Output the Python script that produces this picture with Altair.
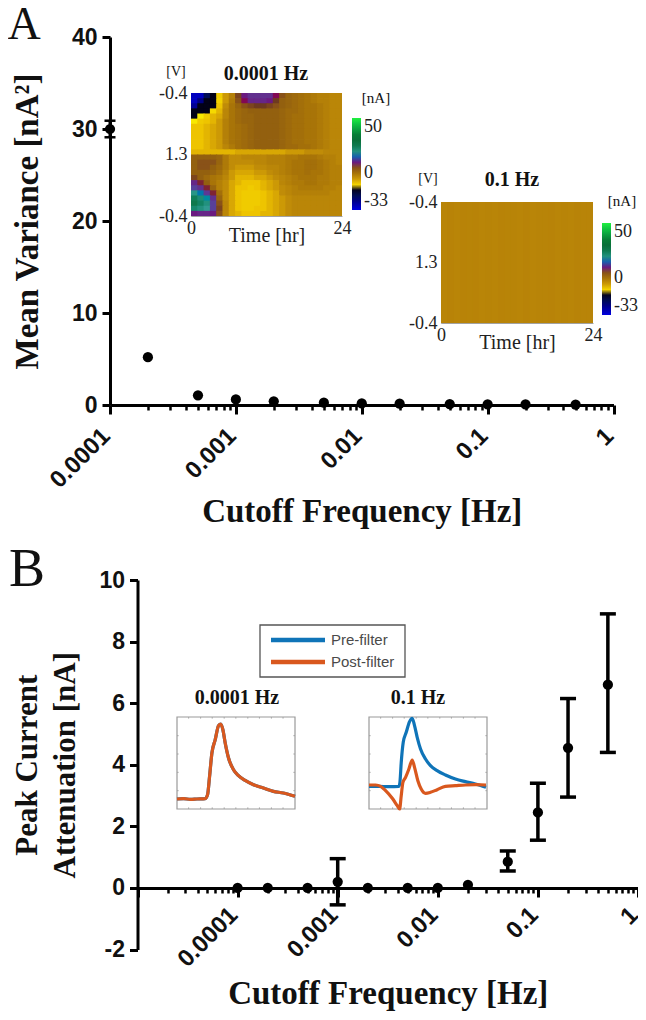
import altair as alt
import pandas as pd

# ---------- Panel A ----------
freq_a = [0.0001, 0.0002, 0.0005, 0.001, 0.002, 0.005, 0.01, 0.02, 0.05, 0.1, 0.2, 0.5]
var_a = [30.0, 5.2, 1.05, 0.6, 0.4, 0.25, 0.18, 0.14, 0.1, 0.07, 0.06, 0.05]
var_lo = [29.1]
var_hi = [30.9]
major_a = [0.0001, 0.001, 0.01, 0.1, 1]
minor_a = [0.0002, 0.0003, 0.0004, 0.0005, 0.0006, 0.0007, 0.0008, 0.0009,
           0.002, 0.003, 0.004, 0.005, 0.006, 0.007, 0.008, 0.009,
           0.02, 0.03, 0.04, 0.05, 0.06, 0.07, 0.08, 0.09,
           0.2, 0.3, 0.4, 0.5, 0.6, 0.7, 0.8, 0.9]

# ---------- Panel B ----------
freq_b = [0.0001, 0.0002, 0.0005, 0.001, 0.002, 0.005, 0.01, 0.02, 0.05, 0.1, 0.2, 0.5]
att_b = [0.0, 0.0, 0.0, 0.2, 0.0, 0.0, 0.0, 0.1, 0.85, 2.45, 4.55, 6.6]
att_lo = [0.0, 0.0, 0.0, -0.55, 0.0, 0.0, 0.0, 0.1, 0.55, 1.55, 2.95, 4.4]
att_hi = [0.0, 0.0, 0.0, 0.95, 0.0, 0.0, 0.0, 0.1, 1.2, 3.4, 6.15, 8.9]
major_b = [0.00001, 0.0001, 0.001, 0.01, 0.1, 1]
minor_b = [0.00002, 0.00003, 0.00004, 0.00005, 0.00006, 0.00007, 0.00008, 0.00009] + minor_a

# ---------- Heatmap: 0.0001 Hz (rows run down the voltage sweep, columns are hours) ----------
heat_slow = [
    [-30,-30,-20,-14,-9,-5,-2,6,10,12,12,12,12,9,5,3,2,1,0,-1,-2,-2,-3,-3],
    [-30,-24,-14,-14,-10,-5,-1,5,9,11,11,11,10,7,4,3,2,1,0,-1,-2,-2,-3,-3],
    [-26,-14,-14,-14,-8,-4,0,3,5,6,7,7,6,5,4,3,2,1,0,0,-1,-2,-3,-3],
    [-14,-14,-14,-11,-7,-3,0,2,3,4,4,4,4,4,3,2,2,1,0,0,-1,-2,-3,-3],
    [-14,-13,-9,-7,-6,-3,0,2,3,3,4,4,4,4,3,2,1,1,0,0,-1,-2,-3,-3],
    [-13,-9,-8,-7,-5,-2,0,2,3,3,4,4,4,4,3,2,1,1,0,0,-1,-2,-3,-3],
    [-8,-8,-7,-6,-5,-2,0,1,2,3,4,4,4,4,3,2,1,1,0,0,-1,-2,-3,-3],
    [-8,-8,-7,-6,-5,-2,0,1,2,3,4,4,4,4,3,2,1,1,0,0,-1,-2,-3,-3],
    [-8,-8,-7,-6,-5,-2,0,1,2,3,4,4,4,4,3,2,1,1,0,0,-1,-2,-3,-3],
    [-8,-8,-7,-6,-5,-2,0,1,2,3,4,4,4,4,3,2,1,1,0,0,-1,-2,-3,-3],
    [-8,-8,-7,-6,-5,-3,-1,1,2,3,4,4,4,4,3,2,2,1,1,0,-1,-2,-3,-3],
    [-7,-7,-7,-7,-7,-7,-7,-6,-6,-6,-6,-6,-6,-6,-6,-5,-5,-5,-4,-4,-4,-3,-3,-3],
    [4,4,4,4,3,-1,-4,-4,-3,-3,-3,-3,-2,-2,-2,-1,-1,0,0,0,-1,-2,-2,-3],
    [4,5,5,5,3,-1,-4,-4,-4,-4,-3,-3,-2,-2,-2,-1,0,0,1,1,0,-1,-2,-3],
    [4,5,5,4,2,-1,-4,-5,-5,-5,-4,-4,-3,-3,-2,-1,0,0,1,1,0,-1,-2,-2],
    [4,4,4,3,1,-2,-5,-6,-6,-6,-5,-5,-4,-3,-2,-1,0,0,1,0,0,-1,-2,-2],
    [6,4,2,0,-1,-3,-5,-7,-7,-7,-6,-6,-5,-4,-3,-2,-1,0,0,0,-1,-1,-2,-2],
    [11,8,4,0,-2,-4,-6,-7,-8,-8,-8,-7,-6,-5,-3,-2,-1,-1,0,0,-1,-1,-2,-2],
    [14,12,8,3,-2,-4,-6,-8,-8,-9,-8,-7,-6,-5,-4,-3,-2,-1,-1,-1,-1,-2,-2,-3],
    [19,16,13,8,1,-4,-6,-8,-9,-9,-9,-8,-7,-6,-4,-3,-2,-2,-2,-2,-2,-2,-3,-3],
    [24,21,17,12,3,-4,-6,-8,-9,-9,-9,-8,-7,-6,-5,-4,-3,-3,-3,-3,-3,-3,-3,-3],
    [26,23,20,14,5,-3,-6,-8,-9,-9,-9,-8,-7,-6,-5,-4,-3,-3,-3,-3,-3,-3,-3,-3],
    [22,20,18,14,6,-3,-6,-8,-9,-9,-8,-8,-7,-6,-5,-4,-3,-3,-3,-3,-3,-3,-3,-3],
    [10,11,11,10,5,-3,-6,-7,-8,-8,-8,-7,-7,-6,-5,-4,-3,-3,-3,-3,-3,-3,-3,-3],
]
# ---------- Heatmap: 0.1 Hz (flat at every voltage) ----------
heat_fast = [
    [-2.8,-2.6,-2.8,-2.6,-2.7,-2.6,-2.9,-2.7,-2.8,-2.6,-2.7,-2.7,
     -2.8,-2.6,-2.9,-2.7,-2.7,-2.6,-2.8,-2.7,-2.8,-2.6,-2.7,-2.7],
]
nA_stops = [-33, -24, -13.5, -13, -8, -4, 0, 4, 7, 10, 14, 18, 25, 32, 42, 50]
nA_colors = ["#0000e0", "#000080", "#000010", "#f8e800", "#eec400", "#c08c08", "#a87408",
             "#93600f", "#6e3a20", "#6a1a80", "#58409a", "#309a90", "#107a50", "#0a6a30",
             "#10b040", "#20f040"]

# ---------- Inset traces (arbitrary units) ----------
t_slow = [0, 20, 40, 60, 85, 92, 98, 105, 115, 125, 132, 138, 145, 155, 170, 185, 205, 230, 260, 290, 320, 355]
i_slow = [30, 31, 29, 30, 31, 43, 98, 168, 208, 250, 255, 238, 198, 153, 118, 100, 86, 73, 63, 53, 48, 38]
t_pre = [0, 30, 60, 90, 93, 97, 103, 112, 122, 130, 137, 145, 155, 170, 185, 205, 230, 260, 290, 320, 352]
i_pre = [68, 68, 67, 68, 80, 140, 200, 230, 262, 272, 250, 215, 180, 150, 130, 115, 102, 90, 82, 75, 65]
t_post = [0, 20, 35, 50, 70, 85, 92, 97, 102, 110, 120, 130, 137, 147, 157, 170, 185, 205, 230, 260, 290, 320, 352]
i_post = [72, 72, 68, 55, 32, 10, 0, 40, 80, 95, 120, 147, 125, 85, 60, 47, 50, 58, 68, 70, 72, 73, 72]
inset_ticks_x = [35, 71, 106, 142, 177, 213, 248, 284, 319]
inset_ticks_y = [55, 110, 165, 220]
series = ["Pre-filter", "Post-filter"]
series_colors = ["#0f74b8", "#d9581e"]

W, H = 630, 1004
SERIF = "Liberation Serif"
SANS = "Liberation Sans"


def px(v):
    return v - 8


def label(text, x, y, size, font=SERIF, bold=False, color="#111111", align="center", baseline="middle"):
    return alt.Chart(alt.Data(values=[{"t": text}])).mark_text(
        font=font, fontSize=size, fontWeight="bold" if bold else "normal",
        color=color, align=align, baseline=baseline,
    ).encode(x=alt.value(px(x)), y=alt.value(px(y)), text=alt.Text("t:N"))


def log_x(left, right, dom, **axis):
    return alt.X("f:Q", scale=alt.Scale(type="log", domain=dom, range=[px(left), px(right)], nice=False),
                 axis=alt.Axis(**axis) if axis else None)


def lin_y(top, bottom, dom, **axis):
    return alt.Y("v:Q", scale=alt.Scale(domain=dom, range=[px(bottom), px(top)], nice=False, zero=False),
                 axis=alt.Axis(**axis) if axis else None)


def x_axis_layers(freqs, left, right, dom, top, bottom, ydom, axis_y, major, minor, title, lsize, tsize, tpad, lpad, loff, lexpr=None):
    src = pd.DataFrame({"f": freqs, "v": [ydom[0]] * len(freqs)})
    kw = {}
    if lexpr:
        kw["labelExpr"] = lexpr
    maj = alt.Chart(src).mark_point(opacity=0).encode(
        x=log_x(left, right, dom, orient="bottom", offset=px(axis_y) - H, values=major, grid=False,
                title=title, titleFont=SERIF, titleFontSize=tsize, titleFontWeight="bold", titleColor="#111111",
                titlePadding=tpad, labelFont=SANS, labelFontSize=lsize, labelFontWeight="bold", labelColor="#111111",
                labelAngle=-45, labelAlign="right", labelBaseline="middle", labelPadding=lpad, labelOffset=loff,
                labelOverlap=False, labelFlush=False, tickSize=9, tickWidth=3, tickColor="#000000", domainWidth=3,
                domainColor="#000000", format="~g", **kw),
        y=lin_y(top, bottom, ydom),
    )
    mnr = alt.Chart(src).mark_point(opacity=0).encode(
        x=log_x(left, right, dom, orient="bottom", offset=px(axis_y) - H, values=minor, grid=False,
                title="", labels=False, domain=False, tickSize=5, tickWidth=2.5, tickColor="#000000"),
        y=lin_y(top, bottom, ydom),
    )
    return [mnr, maj]


def y_axis_layer(freqs, left, right, dom, top, bottom, ydom, axis_x, values, title, lsize, tsize, tpad, line_h=None):
    src = pd.DataFrame({"f": freqs, "v": [ydom[0]] * len(freqs)})
    kw = {"titleLineHeight": line_h} if line_h else {}
    return alt.Chart(src).mark_point(opacity=0).encode(
        x=log_x(left, right, dom),
        y=lin_y(top, bottom, ydom, orient="left", offset=-px(axis_x), values=values, grid=False, title=title,
                titleFont=SERIF, titleFontSize=tsize, titleFontWeight="bold", titleColor="#111111", titlePadding=tpad,
                labelFont=SANS, labelFontSize=lsize, labelFontWeight="bold", labelColor="#111111", labelPadding=5,
                tickSize=8, tickWidth=3, tickColor="#000000", domainWidth=3, domainColor="#000000",
                labelFlush=False, labelOverlap=False, labelExpr="'' + datum.value", **kw),
    )


def heat_layer(matrix, left, right, top, bottom, legend_x, legend_y, colorbar_len):
    n_r, n_c = len(matrix), len(matrix[0])
    rows = []
    for r, row in enumerate(matrix):
        for c, val in enumerate(row):
            rows.append({"h": c, "h2": min(c + 1.15, n_c),
                         "s": 3.4 * r / n_r, "s2": min(3.4 * (r + 1.15) / n_r, 3.4), "nA": val})
    return alt.Chart(pd.DataFrame(rows)).mark_rect().encode(
        x=alt.X("h:Q", scale=alt.Scale(domain=[0, n_c], range=[px(left), px(right)], nice=False, zero=False),
                axis=alt.Axis(orient="bottom", offset=px(bottom) - H, values=[0, 24], grid=False, title="Time [hr]",
                              titleFont=SERIF, titleFontSize=20, titleFontWeight="normal", titleColor="#222222",
                              titlePadding=-12, labelFont=SERIF, labelFontSize=18, labelColor="#222222",
                              labelAngle=0, labelPadding=3, labelFlush=False, tickSize=0, domainColor="#8a8a8a",
                              domainWidth=0.8)),
        x2="h2:Q",
        y=alt.Y("s:Q", scale=alt.Scale(domain=[0, 3.4], range=[px(top), px(bottom)], nice=False, zero=False),
                axis=alt.Axis(orient="left", offset=-px(left), values=[0, 1.7, 3.4], grid=False, title="",
                              labelExpr="datum.value == 1.7 ? '1.3' : '-0.4'", labelFont=SERIF, labelFontSize=18,
                              labelColor="#222222", labelPadding=4, labelFlush=False, labelOverlap=False, tickSize=0,
                              domainColor="#8a8a8a", domainWidth=0.8)),
        y2="s2:Q",
        color=alt.Color("nA:Q", scale=alt.Scale(domain=nA_stops, range=nA_colors, clamp=True),
                        legend=alt.Legend(orient="none", legendX=px(legend_x), legendY=px(legend_y), title=None,
                                          values=[-33, 0, 50], gradientLength=colorbar_len, gradientThickness=9,
                                          gradientStrokeWidth=0, labelFont=SERIF, labelFontSize=18, labelColor="#222222",
                                          labelBaseline="middle", labelOffset=3, labelOverlap=False, padding=0,
                                          labelExpr="'' + datum.value")),
    )


def inset_layers(traces, left, right, top, bottom):
    xs = alt.Scale(domain=[0, 355], range=[px(left), px(right)], nice=False, zero=False)
    ys = alt.Scale(domain=[0, 276], range=[px(bottom), px(top)], nice=False, zero=False)
    frame = alt.Chart(pd.DataFrame({"a": [0], "a2": [355], "b": [0], "b2": [276]})).mark_rect(
        fill="#ffffff", stroke="#9a9a9a", strokeWidth=1.2,
    ).encode(x=alt.X("a:Q", scale=xs, axis=None), x2="a2:Q", y=alt.Y("b:Q", scale=ys, axis=None), y2="b2:Q")
    tick_rows = []
    for t in inset_ticks_x:
        tick_rows.append({"a": t, "a2": t, "b": 0, "b2": 5})
        tick_rows.append({"a": t, "a2": t, "b": 271, "b2": 276})
    for t in inset_ticks_y:
        tick_rows.append({"a": 0, "a2": 5, "b": t, "b2": t})
        tick_rows.append({"a": 350, "a2": 355, "b": t, "b2": t})
    ticks = alt.Chart(pd.DataFrame(tick_rows)).mark_rule(color="#9a9a9a", strokeWidth=0.8).encode(
        x=alt.X("a:Q", scale=xs, axis=None), x2="a2:Q", y=alt.Y("b:Q", scale=ys, axis=None), y2="b2:Q")
    rows = []
    for name, ts, vs in traces:
        for i, (t, v) in enumerate(zip(ts, vs)):
            rows.append({"t": t, "i": v, "s": name, "o": i})
    lines = alt.Chart(pd.DataFrame(rows)).mark_line(strokeWidth=3.2, interpolate="monotone").encode(
        x=alt.X("t:Q", scale=xs, axis=None),
        y=alt.Y("i:Q", scale=ys, axis=None),
        color=alt.Color("s:N", scale=alt.Scale(domain=series, range=series_colors), legend=None),
        order="o:Q",
    )
    return [frame, ticks, lines]


def key_layers():
    one = alt.Data(values=[{"k": 1}])
    box = alt.Chart(one).mark_rect(fill="#ffffff", stroke="#555555", strokeWidth=1.3).encode(
        x=alt.value(px(260)), x2=alt.value(px(405)), y=alt.value(px(625)), y2=alt.value(px(677)))
    out = [box]
    for name, col, yy in zip(series, series_colors, [640, 662]):
        out.append(alt.Chart(one).mark_rule(color=col, strokeWidth=4.5).encode(
            x=alt.value(px(271)), x2=alt.value(px(325)), y=alt.value(px(yy))))
        out.append(label(name, 331, yy, 15, font=SANS, color="#4a4a4a", align="left"))
    return out


# ---- Panel A marks
A_LEFT, A_RIGHT, A_TOP, A_BOT = 110, 613.5, 37, 405
A_DOM, A_Y = [0.0001, 1], [0, 40]
A_xy = dict(x=log_x(A_LEFT, A_RIGHT, A_DOM), y=lin_y(A_TOP, A_BOT, A_Y))
a_pts = alt.Chart(pd.DataFrame({"f": freq_a, "v": var_a})).mark_circle(size=105, color="#000000", opacity=1).encode(**A_xy)
a_err = pd.DataFrame({"f": freq_a[:1], "v": var_lo, "v2": var_hi})
a_rule = alt.Chart(a_err).mark_rule(color="#000000", strokeWidth=3).encode(**A_xy, y2="v2:Q")
a_cap1 = alt.Chart(a_err).mark_tick(orient="horizontal", size=11, thickness=2.5, color="#000000", opacity=1).encode(**A_xy)
a_cap2 = alt.Chart(a_err).mark_tick(orient="horizontal", size=11, thickness=2.5, color="#000000", opacity=1).encode(
    x=A_xy["x"], y=alt.Y("v2:Q", scale=alt.Scale(domain=A_Y, range=[px(A_BOT), px(A_TOP)], nice=False, zero=False), axis=None))

# ---- Panel B marks
B_LEFT, B_RIGHT, B_TOP, B_BOT = 137.5, 638, 580, 949.5
B_DOM, B_Y = [0.00001, 1], [-2, 10]
B_xy = dict(x=log_x(B_LEFT, B_RIGHT, B_DOM), y=lin_y(B_TOP, B_BOT, B_Y))
b_df = pd.DataFrame({"f": freq_b, "v": att_b, "lo": att_lo, "hi": att_hi})
b_err = b_df[b_df["hi"] > b_df["lo"]]
by = dict(scale=alt.Scale(domain=B_Y, range=[px(B_BOT), px(B_TOP)], nice=False, zero=False), axis=None)
b_pts = alt.Chart(b_df).mark_circle(size=105, color="#000000", opacity=1).encode(**B_xy)
b_rule = alt.Chart(b_err).mark_rule(color="#000000", strokeWidth=3.5).encode(
    x=B_xy["x"], y=alt.Y("lo:Q", **by), y2="hi:Q")
b_cap1 = alt.Chart(b_err).mark_tick(orient="horizontal", size=16, thickness=3.5, color="#000000", opacity=1).encode(
    x=B_xy["x"], y=alt.Y("lo:Q", **by))
b_cap2 = alt.Chart(b_err).mark_tick(orient="horizontal", size=16, thickness=3.5, color="#000000", opacity=1).encode(
    x=B_xy["x"], y=alt.Y("hi:Q", **by))

layers = []
layers += x_axis_layers(freq_a, A_LEFT, A_RIGHT, A_DOM, A_TOP, A_BOT, A_Y, A_BOT, major_a, minor_a,
                        "Cutoff Frequency [Hz]", 24, 33, 3, 18, -4)
layers.append(y_axis_layer(freq_a, A_LEFT, A_RIGHT, A_DOM, A_TOP, A_BOT, A_Y, A_LEFT, [0, 10, 20, 30, 40],
                           "Mean Variance [nA²]", 23, 33, 27))
layers += [a_rule, a_cap1, a_cap2, a_pts]
layers.append(heat_layer(heat_slow, 191, 342, 93, 216, 352, 118, 92))
layers.append(heat_layer(heat_fast, 441, 593, 202, 323, 602, 223, 92))
layers += [
    label("A", 24, 39, 46, baseline="alphabetic"),
    label("[V]", 176, 72, 14),
    label("0.0001 Hz", 266, 74, 20, bold=True),
    label("[nA]", 376, 98, 15),
    label("[V]", 428, 179, 14),
    label("0.1 Hz", 512, 180, 20, bold=True),
    label("[nA]", 622, 201, 15),
]
layers += x_axis_layers(freq_b, B_LEFT, B_RIGHT, B_DOM, B_TOP, B_BOT, B_Y, 888, major_b, minor_b,
                        "Cutoff Frequency [Hz]", 24, 33, 6, 14, -4,
                        lexpr="datum.value < 0.00005 ? '' : datum.label")
layers.append(y_axis_layer(freq_b, B_LEFT, B_RIGHT, B_DOM, B_TOP, B_BOT, B_Y, B_LEFT, [-2, 0, 2, 4, 6, 8, 10],
                           ["Peak Current", "Attenuation [nA]"], 23, 31, 17, line_h=38))
layers += [b_rule, b_cap1, b_cap2, b_pts]
layers += inset_layers([("Pre-filter", t_slow, i_slow), ("Post-filter", t_slow, i_slow)], 177, 295, 717, 809)
layers += inset_layers([("Pre-filter", t_pre, i_pre), ("Post-filter", t_post, i_post)], 369, 487, 717, 809)
layers += key_layers()
layers += [
    label("B", 27, 586, 54, baseline="alphabetic"),
    label("0.0001 Hz", 237, 698, 20, bold=True),
    label("0.1 Hz", 418, 698, 20, bold=True),
]

chart = alt.layer(*layers).resolve_scale(x="independent", y="independent", color="independent").resolve_axis(
    x="independent", y="independent").resolve_legend(color="independent").properties(
    width=W, height=H, padding=0, autosize=alt.AutoSizeParams(type="none"),
    background="#ffffff",
).configure_view(stroke=None)

chart.save("out.html", embed_options={"renderer": "svg", "actions": False})
